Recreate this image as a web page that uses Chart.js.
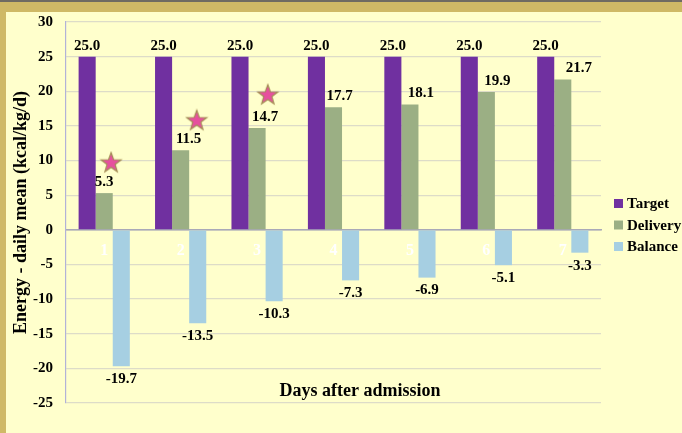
<!DOCTYPE html>
<html>
<head>
<meta charset="utf-8">
<script src="https://cdn.jsdelivr.net/npm/chart.js@4/dist/chart.umd.min.js"></script>
<style>
html,body{margin:0;padding:0;background:#FFFFCC;}
#wrap{position:relative;width:682px;height:433px;overflow:hidden;background:#FFFFCC;}
#c{position:absolute;left:0;top:0;}
#topbar{position:absolute;left:0;top:0;width:682px;height:2px;background:#6F6B62;}
#topstrip{position:absolute;left:0;top:2px;width:682px;height:10px;background:#CFB966;}
#leftstrip{position:absolute;left:0;top:0;width:6px;height:433px;background:#CFB966;}
</style>
</head>
<body>
<div id="wrap">
<canvas id="c" width="682" height="433"></canvas>
<div id="topstrip"></div>
<div id="leftstrip"></div>
<div id="topbar"></div>
</div>
<script>
// ---- data ----
const days = [1, 2, 3, 4, 5, 6, 7];
const seriesNames = ['Target', 'Delivery', 'Balance'];
const target = [25.0, 25.0, 25.0, 25.0, 25.0, 25.0, 25.0];
const delivery = [5.3, 11.5, 14.7, 17.7, 18.1, 19.9, 21.7];
const balance = [-19.7, -13.5, -10.3, -7.3, -6.9, -5.1, -3.3];
const starX = [1.09, 2.21, 3.14];   // position along the day axis
const starY = [9.7, 15.8, 19.5];
const yMin = -25, yMax = 30, yStep = 5;
const xTitle = 'Days after admission';
const yTitle = 'Energy - daily mean (kcal/kg/d)';

// ---- styles ----
const colors = ['#7030A0', '#9BAF84', '#A6CFE2'];
const FONT = "'Liberation Serif', 'Times New Roman', serif";
const deliveryLabelNudge = [0, 8, 8, 6, 11, 11, 16];

// star image for the marker points
const starImg = document.createElement('canvas');
starImg.width = 24; starImg.height = 24;
(function () {
  const g = starImg.getContext('2d');
  g.beginPath();
  for (let i = 0; i < 10; i++) {
    const r = i % 2 === 0 ? 10.5 : 4.3;
    const a = -Math.PI / 2 + i * Math.PI / 5;
    const px = 12 + r * Math.cos(a), py = 12.5 + r * Math.sin(a);
    if (i === 0) g.moveTo(px, py); else g.lineTo(px, py);
  }
  g.closePath();
  g.fillStyle = '#E6509E';
  g.fill();
  g.lineWidth = 1.2;
  g.strokeStyle = '#A48C55';
  g.stroke();
})();

const labelPlugin = {
  id: 'labels',
  afterDatasetsDraw(chart) {
    const ctx = chart.ctx;
    ctx.save();
    ctx.font = 'bold 15px ' + FONT;
    ctx.fillStyle = '#000';
    ctx.textAlign = 'center';
    ctx.textBaseline = 'middle';
    [target, delivery, balance].forEach((arr, di) => {
      const meta = chart.getDatasetMeta(di);
      meta.data.forEach((bar, i) => {
        const txt = arr[i].toFixed(1);
        if (di === 0) ctx.fillText(txt, bar.x, bar.y - 11);
        else if (di === 1) ctx.fillText(txt, bar.x + deliveryLabelNudge[i], bar.y - 11);
        else ctx.fillText(txt, bar.x, bar.y + 13);
      });
    });
    // x axis title
    const ys = chart.scales.y;
    ctx.font = 'bold 18px ' + FONT;
    ctx.fillText(xTitle, 360, ys.getPixelForValue(-23.3));
    // legend
    const lx = chart.chartArea.right + 13;
    ctx.textAlign = 'left';
    ctx.font = 'bold 15px ' + FONT;
    seriesNames.forEach((name, i) => {
      const cy = 203.5 + i * 21.5;
      ctx.fillStyle = colors[i];
      ctx.fillRect(lx, cy - 4.5, 9, 9);
      ctx.fillStyle = '#000';
      ctx.fillText(name, lx + 13, cy + 1);
    });
    ctx.restore();
  }
};

const toXY = (arr) => days.map((d, i) => ({ x: d, y: arr[i] }));
const barCommon = { categoryPercentage: 0.67, barPercentage: 1.0 };

new Chart(document.getElementById('c'), {
  type: 'bar',
  data: {
    datasets: [
      Object.assign({ label: seriesNames[0], data: toXY(target), backgroundColor: colors[0] }, barCommon),
      Object.assign({ label: seriesNames[1], data: toXY(delivery), backgroundColor: colors[1] }, barCommon),
      Object.assign({ label: seriesNames[2], data: toXY(balance), backgroundColor: colors[2] }, barCommon),
      { type: 'scatter', label: 'star', data: starX.map((x, i) => ({ x: x, y: starY[i] })),
        pointStyle: starImg, pointRadius: 11, showLine: false }
    ]
  },
  options: {
    responsive: false,
    animation: false,
    layout: { padding: { left: 0, right: 81, top: 22, bottom: 30 } },
    plugins: { legend: { display: false }, tooltip: { enabled: false } },
    scales: {
      x: {
        type: 'linear',
        min: days[0] - 0.5,
        max: days[days.length - 1] + 0.5,
        offset: false,
        position: { y: 0 },
        grid: { display: false },
        border: { color: '#A9A9B8', width: 1.5 },
        afterBuildTicks(s) { s.ticks = days.map(d => ({ value: d })); },
        ticks: { color: '#FFFFFF', font: { family: FONT, size: 16, weight: 'bold' }, padding: 3, autoSkip: false,
                 callback: (v) => String(v) },
        afterFit(s) { s.height = 0; }
      },
      y: {
        min: yMin, max: yMax,
        ticks: { stepSize: yStep, color: '#000', font: { family: FONT, size: 15, weight: 'bold' }, padding: 13 },
        grid: { color: (c) => c.tick && c.tick.value === 0 ? '#A9A9B8' : '#DDDCC8', drawTicks: false, lineWidth: 1.2 },
        border: { color: '#B2B2D8', width: 1.2 },
        title: { display: true, text: yTitle, color: '#000', font: { family: FONT, size: 18, weight: 'bold' }, padding: { top: 11, bottom: 0 } },
        afterFit(s) { s.width = 66; }
      }
    }
  },
  plugins: [labelPlugin]
});
</script>
</body>
</html>
